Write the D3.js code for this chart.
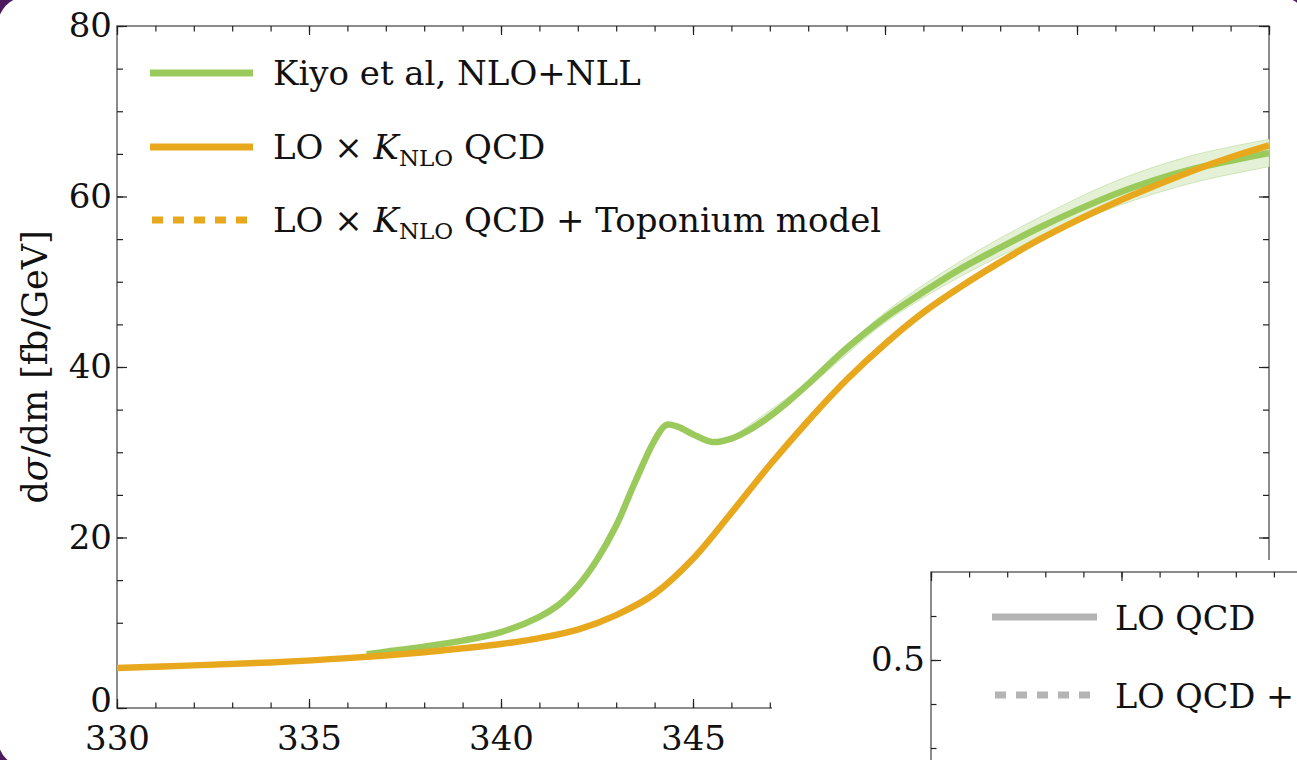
<!DOCTYPE html>
<html>
<head>
<meta charset="utf-8">
<script src="https://cdn.jsdelivr.net/npm/d3@7"></script>
<style>
  body { margin: 0; background: #4e1c5e; overflow: hidden; }
  text { font-family: "DejaVu Serif", serif; fill: #111; }
</style>
</head>
<body>
<script>
// invariant mass (GeV) and d sigma / dm (fb/GeV)
const loKMass = [330, 332, 334, 336, 338, 339, 340, 341, 342, 343, 344, 345, 346, 347, 348, 349, 350, 351, 352, 353, 354, 355, 356, 357, 358, 359, 360]
const loKValues = [4.7, 5.0, 5.35, 5.85, 6.55, 7.0, 7.5, 8.2, 9.2, 10.9, 13.4, 17.5, 22.9, 28.5, 33.7, 38.5, 42.7, 46.4, 49.5, 52.3, 54.9, 57.2, 59.3, 61.2, 63.0, 64.6, 66.0]

const kiyoMass = [336.5, 337, 338, 339, 340, 341, 341.5, 342, 342.5, 343, 343.5, 344, 344.3, 344.6, 345, 345.5, 346, 346.5, 347, 347.5, 348, 349, 350, 351, 352, 353, 354, 355, 356, 357, 358, 359, 360]
const kiyoValues = [6.3, 6.6, 7.2, 7.9, 8.9, 10.7, 12.1, 14.3, 17.4, 21.4, 26.6, 31.4, 33.2, 33.0, 32.1, 31.2, 31.6, 32.7, 34.2, 36.0, 38.0, 42.2, 45.8, 48.8, 51.6, 54.0, 56.3, 58.4, 60.3, 61.9, 63.2, 64.2, 65.1]

// uncertainty band of the Kiyo et al curve
const bandMass = [346, 348, 350, 352, 354, 356, 358, 360]
const bandLow = [31.5, 37.7, 45.2, 50.7, 55.1, 58.8, 61.6, 63.5]
const bandHigh = [31.7, 38.3, 46.4, 52.5, 57.5, 61.8, 64.8, 66.7]

const xTicks = [330, 335, 340, 345, 350, 355, 360]
const xTickLabels = [330, 335, 340, 345]
const yTicks = [0, 20, 40, 60, 80]
const insetYTicks = [0.5]

const W = 1297, H = 760
const green = "#9bca5c", orange = "#e8a81d", grey = "#b4b4b4"

const svg = d3.select("body").append("svg").attr("width", W).attr("height", H)

// white slide with rounded corners on purple
svg.append("rect").attr("x", -2).attr("y", -3).attr("width", 1310).attr("height", 770)
    .attr("rx", 28).attr("fill", "#fff")

const plot = {left: 117, right: 1269, top: 26, bottom: 708}
const x = d3.scaleLinear().domain([330, 360]).range([plot.left, plot.right])
const y = d3.scaleLinear().domain([0, 80]).range([plot.bottom, plot.top])

const minorX = d3.range(330, 361, 1)
const minorY = d3.range(0, 81, 5)

// frame
svg.append("rect")
    .attr("x", plot.left).attr("y", plot.top)
    .attr("width", plot.right - plot.left).attr("height", plot.bottom - plot.top)
    .attr("fill", "none").attr("stroke", "#666").attr("stroke-width", 1.5)

function tickAxis(g, axis) {
    g.call(axis)
    g.select(".domain").remove()
    g.selectAll("line").attr("stroke", "#222").attr("stroke-width", 1.2)
}

// minor ticks on all four sides, pointing inwards
svg.append("g").attr("transform", `translate(0,${plot.bottom})`)
    .call(g => tickAxis(g, d3.axisBottom(x).tickValues(minorX).tickSize(-5.5).tickFormat("")))
svg.append("g").attr("transform", `translate(0,${plot.top})`)
    .call(g => tickAxis(g, d3.axisTop(x).tickValues(minorX).tickSize(-5.5).tickFormat("")))
svg.append("g").attr("transform", `translate(${plot.left},0)`)
    .call(g => tickAxis(g, d3.axisLeft(y).tickValues(minorY).tickSize(-6).tickFormat("")))
svg.append("g").attr("transform", `translate(${plot.right},0)`)
    .call(g => tickAxis(g, d3.axisRight(y).tickValues(minorY).tickSize(-6).tickFormat("")))

// major ticks + labels
svg.append("g").attr("transform", `translate(0,${plot.bottom})`)
    .call(g => tickAxis(g, d3.axisBottom(x).tickValues(xTicks).tickSize(-9).tickFormat("")))
const xAxis = svg.append("g").attr("transform", `translate(0,${plot.bottom})`)
tickAxis(xAxis, d3.axisBottom(x).tickValues(xTickLabels).tickSize(0).tickPadding(18).tickFormat(d3.format("d")))
svg.append("g").attr("transform", `translate(0,${plot.top})`)
    .call(g => tickAxis(g, d3.axisTop(x).tickValues(xTicks).tickSize(-9).tickFormat("")))
const yAxis = svg.append("g").attr("transform", `translate(${plot.left},0)`)
tickAxis(yAxis, d3.axisLeft(y).tickValues(yTicks).tickSize(-10).tickPadding(5).tickFormat(d3.format("d")))
svg.append("g").attr("transform", `translate(${plot.right},0)`)
    .call(g => tickAxis(g, d3.axisRight(y).tickValues(yTicks).tickSize(-10).tickFormat("")))
svg.selectAll(".tick text").attr("font-family", "DejaVu Serif").attr("font-size", 34).attr("fill", "#111")
yAxis.selectAll(".tick text").filter(d => d === 0).attr("dy", "0.1em")

// y label
svg.append("text")
    .attr("transform", `translate(47,367) rotate(-90)`)
    .attr("text-anchor", "middle").attr("font-size", 35)
    .call(t => {
        t.append("tspan").text("d")
        t.append("tspan").attr("font-style", "italic").text("σ")
        t.append("tspan").text("/dm [fb/GeV]")
    })

// curves
const band = d3.area().x((d, i) => x(bandMass[i])).y0((d, i) => y(bandLow[i])).y1(d => y(d))
    .curve(d3.curveCatmullRom)
svg.append("path").datum(bandHigh).attr("d", band)
    .attr("fill", "#e4f1d6").attr("stroke", "#cfe5b6").attr("stroke-width", 1)

const line = d3.line().curve(d3.curveCatmullRom.alpha(0.5))
svg.append("path").datum(kiyoMass.map((m, i) => [x(m), y(kiyoValues[i])]))
    .attr("d", line).attr("fill", "none").attr("stroke", green).attr("stroke-width", 6.5)
svg.append("path").datum(loKMass.map((m, i) => [x(m), y(loKValues[i])]))
    .attr("d", line).attr("fill", "none").attr("stroke", orange).attr("stroke-width", 6.5)

// main legend
const legend = [
    {color: green, dash: null, y: 73},
    {color: orange, dash: null, y: 147},
    {color: orange, dash: "11 10", y: 220}
]
legend.forEach((l, i) => {
    svg.append("line").attr("x1", l.dash ? 152 : 150).attr("x2", l.dash ? 248 : 253)
        .attr("y1", l.y).attr("y2", l.y)
        .attr("stroke", l.color).attr("stroke-width", 7).attr("stroke-dasharray", l.dash)
    const t = svg.append("text").attr("x", 273).attr("y", l.y + 12).attr("font-size", 34)
    if (i === 0) {
        t.text("Kiyo et al, NLO+NLL")
    } else {
        t.append("tspan").text("LO × ")
        t.append("tspan").attr("font-style", "italic").text("K")
        t.append("tspan").attr("font-size", 23).attr("dy", 7).text("NLO")
        t.append("tspan").attr("dy", -7).text(i === 1 ? " QCD" : " QCD + Toponium model")
    }
})

// inset panel (partly outside the frame)
svg.append("rect").attr("x", 772).attr("y", 560).attr("width", 600).attr("height", 300).attr("fill", "#fff")
const inset = {left: 931, top: 572}
const ix = d3.scaleLinear().domain([0, 10]).range([inset.left, inset.left + 381])
const iy = d3.scaleLinear().domain([0, 0.7]).range([572 + 0.7 * 440, 572])
svg.append("path")
    .attr("d", `M${inset.left},${H + 5}V${inset.top}H${W + 5}`)
    .attr("fill", "none").attr("stroke", "#666").attr("stroke-width", 1.5)
svg.append("g").attr("transform", `translate(0,${inset.top})`)
    .call(g => tickAxis(g, d3.axisTop(ix).tickValues(d3.range(0, 11)).tickSize(-5.5).tickFormat("")))
svg.append("g").attr("transform", `translate(0,${inset.top})`)
    .call(g => tickAxis(g, d3.axisTop(ix).tickValues([0, 5, 10]).tickSize(-9).tickFormat("")))
svg.append("g").attr("transform", `translate(${inset.left},0)`)
    .call(g => tickAxis(g, d3.axisLeft(iy).tickValues(d3.range(0, 0.65, 0.1)).tickSize(-5.5).tickFormat("")))
const iyAxis = svg.append("g").attr("transform", `translate(${inset.left},0)`)
tickAxis(iyAxis, d3.axisLeft(iy).tickValues(insetYTicks).tickSize(-10).tickPadding(6).tickFormat(d3.format(".1f")))
iyAxis.selectAll("text").attr("font-family", "DejaVu Serif").attr("font-size", 34).attr("fill", "#111")

const insetLegend = [
    {dash: null, y: 617, label: "LO QCD"},
    {dash: "11 10", y: 695, label: "LO QCD +"}
]
insetLegend.forEach(l => {
    svg.append("line").attr("x1", l.dash ? 995 : 992).attr("x2", l.dash ? 1091 : 1097)
        .attr("y1", l.y).attr("y2", l.y)
        .attr("stroke", grey).attr("stroke-width", 7).attr("stroke-dasharray", l.dash)
    svg.append("text").attr("x", 1115).attr("y", l.y + 13).attr("font-size", 33.5).text(l.label)
})
</script>
</body>
</html>
